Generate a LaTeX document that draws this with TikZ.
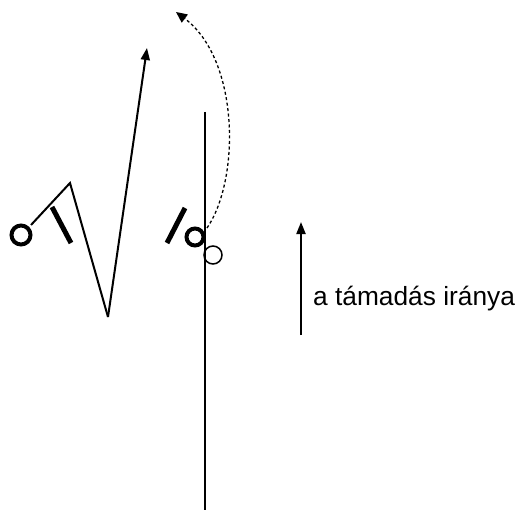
\documentclass[tikz,border=0pt]{standalone}
\usepackage{fontspec}
\setmainfont{Liberation Sans}
\usetikzlibrary{arrows.meta}

\begin{document}
\begin{tikzpicture}[x=1pt, y=-1pt,
        ln/.style={line width=2pt, black},
        bar/.style={line width=5pt, black},
        ring/.style={line width=4pt, black},
        arr/.style={ln, -{Triangle[length=12pt,width=9pt]}},
        lbl/.style={font=\fontsize{26.3}{31}\selectfont, inner sep=0pt, anchor=base west}]
      \useasboundingbox (0,0) rectangle (518,510);
      % left player and the path of the ball
      \coordinate (lc) at (21,235);
      \coordinate (lk) at (31,225);
      \coordinate (la) at (70,183);
      \coordinate (lb) at (108,317);
      \coordinate (lt) at (147,48);
      \draw[ring] (lc) circle[radius=9.5pt];
      \draw[bar] (52,207) -- (71,243);
      \draw[ln] (lk) -- (la) -- (lb);
      \draw[arr] (lb) -- (lt);
      % net line and the defender
      \coordinate (nt) at (205,112);
      \coordinate (nb) at (205,510);
      \draw[ln] (nt) -- (nb);
      \draw[bar] (185,208) -- (167,243);
      \coordinate (mc) at (195,237);
      \coordinate (oc) at (213,255);
      \draw[ring] (mc) circle[radius=8.5pt];
      \draw[ln, line width=1.5pt] (oc) circle[radius=9pt];
      \coordinate (ds) at (207,228);
      \coordinate (de) at (176,12);
      \draw[ln, line width=1.3pt, dash pattern=on 3pt off 2.5pt, -{Triangle[length=11pt,width=10pt]}]
        (ds) .. controls (240,180) and (240,60) .. (de);
      % direction of the attack
      \coordinate (ab) at (301,335);
      \coordinate (at) at (301,222);
      \draw[arr] (ab) -- (at);
      \node[lbl] (dir) at (313,305) {a támadás iránya};
    \end{tikzpicture}
\end{document}
